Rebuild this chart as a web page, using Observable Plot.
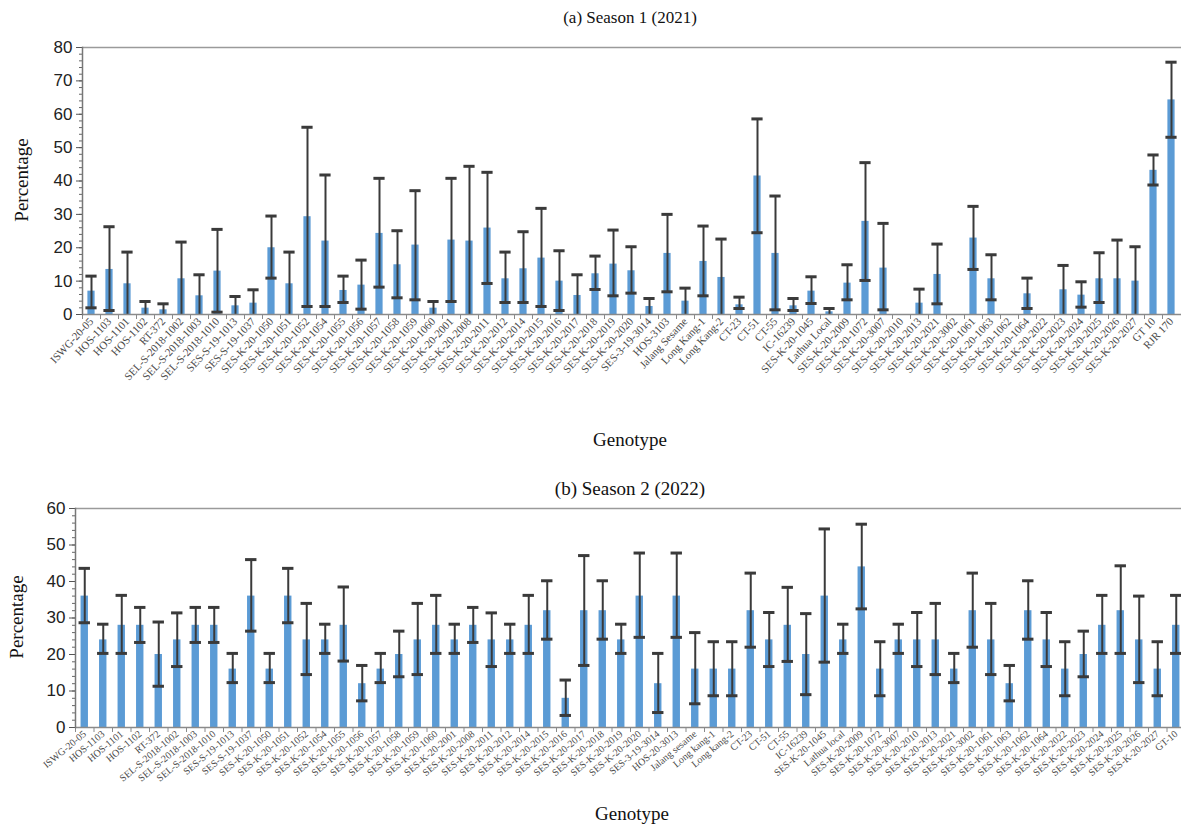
<!DOCTYPE html>
<html>
<head>
<meta charset="utf-8">
<script src="https://cdn.jsdelivr.net/npm/d3@7"></script>
<script src="https://cdn.jsdelivr.net/npm/@observablehq/plot@0.6"></script>
<style>
  html, body { margin: 0; padding: 0; background: #fff; }
  #wrap { position: relative; width: 1181px; height: 828px; overflow: hidden; font-family: "Liberation Serif", "DejaVu Serif", serif; color: #111; }
  .lbl { position: absolute; transform: translate(-50%, -50%); white-space: nowrap; }
  .rot { transform: translate(-50%, -50%) rotate(-90deg); }
  .panel { position: absolute; left: 0; line-height: 0; }
  .panel svg { display: block; }
</style>
</head>
<body>
<div id="wrap">
  <div class="lbl" style="left:630px; top:18px; font-size:17px;">(a) Season 1 (2021)</div>
  <div class="lbl rot" style="left:22px; top:180px; font-size:19px;">Percentage</div>
  <div class="lbl" style="left:630px; top:440px; font-size:19px;">Genotype</div>
  <div class="lbl" style="left:630px; top:489px; font-size:19px;">(b) Season 2 (2022)</div>
  <div class="lbl rot" style="left:17px; top:617px; font-size:19px;">Percentage</div>
  <div class="lbl" style="left:632px; top:814px; font-size:19px; z-index:2;">Genotype</div>
  <div id="pa" class="panel" style="top:30px;"></div>
  <div id="pb" class="panel" style="top:495px;"></div>
</div>
<script>
// ---------- Season 1 (2021) ----------
const genotypesA = ["ISWG-20-05","HOS-1103","HOS-1101","HOS-1102","RT-372","SEL-S-2018-1002","SEL-S-2018-1003","SEL-S-2018-1010","SES-S-19-1013","SES-S-19-1037","SES-K-20-1050","SES-K-20-1051","SES-K-20-1052","SES-K-20-1054","SES-K-20-1055","SES-K-20-1056","SES-K-20-1057","SES-K-20-1058","SES-K-20-1059","SES-K-20-1060","SES-K-20-2001","SES-K-20-2008","SES-K-20-2011","SES-K-20-2012","SES-K-20-2014","SES-K-20-2015","SES-K-20-2016","SES-K-20-2017","SES-K-20-2018","SES-K-20-2019","SES-K-20-2020","SES-3-19-3014","HOS-3103","Jalang Sesame","Long Kang-1","Long Kang-2","CT-23","CT-51","CT-55","IC-16239","SES-K-20-1045","Lathua Local","SES-K-20-2009","SES-K-20-1072","SES-K-20-3007","SES-K-20-2010","SES-K-20-2013","SES-K-20-2021","SES-K-20-3002","SES-K-20-1061","SES-K-20-1063","SES-K-20-1062","SES-K-20-1064","SES-K-20-2022","SES-K-20-2023","SES-K-20-2024","SES-K-20-2025","SES-K-20-2026","SES-K-20-2027","GT 10","RJR 170"];
const meanA  = [7.0,13.5,9.2,1.9,1.4,10.7,5.6,13.0,2.6,3.4, 20.0,9.2,29.3,22.0,7.2,8.8,24.3,14.9,20.8,1.9, 22.3,22.0,25.9,10.7,13.7,16.9,10.0,5.7,12.2,15.1, 13.1,2.4,18.3,4.0,15.9,11.1,2.9,41.5,18.3,2.6, 7.0,0.8,9.4,27.9,13.9,0,3.4,12.0,0,22.9, 10.7,0,6.2,0,7.4,5.8,10.7,10.7,10.0,43.2,64.3];
const upperA = [11.5,26.3,18.7,3.9,3.2,21.7,11.9,25.5,5.4,7.4, 29.5,18.7,56.1,41.8,11.5,16.3,40.8,25.1,37.1,3.9, 40.8,44.4,42.6,18.7,24.8,31.8,19.1,11.9,17.5,25.3, 20.3,4.8,30.0,7.9,26.5,22.6,5.2,58.6,35.5,4.8, 11.3,1.8,14.9,45.5,27.3,0,7.6,21.1,0,32.4, 17.9,0,10.9,0,14.7,9.8,18.5,22.3,20.3,47.8,75.6];
const lowerA = [2.0,1.2,0,0,0,0,0,0.7,0,0, 10.9,0,2.4,2.4,3.6,1.6,8.2,5.0,4.4,0, 3.9,0,9.3,3.6,3.6,2.4,1.2,0,7.5,5.6, 6.4,0,6.8,0,5.6,0,1.8,24.5,1.4,1.2, 3.3,0,4.4,10.2,1.4,0,0,3.2,0,13.5, 4.4,0,1.8,0,0,2.2,3.6,0,0,38.8,53.1];
const yTicksA = [0,10,20,30,40,50,60,70,80];

// ---------- Season 2 (2022) ----------
const genotypesB = ["ISWG-20-05","HOS-1103","HOS-1101","HOS-1102","RT-372","SEL-S-2018-1002","SEL-S-2018-1003","SEL-S-2018-1010","SES-S-19-1013","SES-S-19-1037","SES-K-20-1050","SES-K-20-1051","SES-K-20-1052","SES-K-20-1054","SES-K-20-1055","SES-K-20-1056","SES-K-20-1057","SES-K-20-1058","SES-K-20-1059","SES-K-20-1060","SES-K-20-2001","SES-K-20-2008","SES-K-20-2011","SES-K-20-2012","SES-K-20-2014","SES-K-20-2015","SES-K-20-2016","SES-K-20-2017","SES-K-20-2018","SES-K-20-2019","SES-K-20-2020","SES-3-19-3014","HOS-20-3013","Jalang sesame","Long kang-1","Long kang-2","CT-23","CT-51","CT-55","IC-16239","SES-K-20-1045","Lathua local","SES-K-20-2009","SES-K-20-1072","SES-K-20-3007","SES-K-20-2010","SES-K-20-2013","SES-K-20-2021","SES-K-20-3002","SES-K-20-1061","SES-K-20-1063","SES-K-20-1062","SES-K-20-1064","SES-K-20-2022","SES-K-20-2023","SES-K-20-2024","SES-K-20-2025","SES-K-20-2026","SES-K-20-2027","GT-10"];
const meanB  = [36,24,28,28,20,24,28,28,16,36, 16,36,24,24,28,12,16,20,24,28, 24,28,24,24,28,32,8,32,32,24, 36,12,36,16,16,16,32,24,28,20, 36,24,44,16,24,24,24,16,32,24, 12,32,24,16,20,28,32,24,16,28];
const upperB = [43.6,28.3,36.2,32.9,28.9,31.4,32.9,32.9,20.3,46.0, 20.3,43.6,34.0,28.3,38.5,17.0,20.3,26.4,34.0,36.2, 28.3,32.9,31.4,28.3,36.2,40.2,13.0,47.1,40.2,28.3, 47.8,20.3,47.8,26.0,23.5,23.5,42.3,31.5,38.4,31.2, 54.4,28.3,55.7,23.5,28.3,31.5,34.0,20.3,42.3,34.0, 17.0,40.2,31.5,23.5,26.4,36.2,44.3,36.0,23.5,36.2];
const lowerB = [28.7,20.3,20.3,23.3,11.3,16.7,23.3,23.3,12.3,26.4, 12.3,28.7,14.5,20.3,18.2,7.3,12.3,13.9,14.5,20.3, 20.3,23.3,16.7,20.3,20.3,24.2,3.3,17.0,24.2,20.3, 24.7,4.1,24.7,6.5,8.7,8.7,22.0,16.7,18.1,9.0, 17.9,20.3,32.5,8.7,20.3,16.7,14.5,12.3,22.0,14.5, 7.3,24.2,16.7,8.7,13.9,20.3,20.3,12.3,8.7,20.3];
const yTicksB = [0,10,20,30,40,50,60];

function panel({genotypes, mean, upper, lower, yTicks, width, height, marginLeft, xEnd, marginTop, marginBottom, labelSize, labelRotate}) {
  const data = genotypes.map((g, i) => ({g, v: mean[i], hi: upper[i], lo: lower[i]}));
  const yMax = yTicks[yTicks.length - 1];
  const minor = d3.range(0, yMax + 0.001, 2);
  const step = (xEnd - marginLeft) / genotypes.length;
  const errs = data.filter(d => d.hi > 0);
  const ink = "#3a3a3a";
  return Plot.plot({
    width, height, marginLeft, marginRight: 0, marginTop, marginBottom,
    style: {fontFamily: "'Liberation Serif', serif", background: "transparent", overflow: "visible"},
    x: {domain: genotypes, range: [marginLeft, xEnd], round: false, paddingInner: 0.6, paddingOuter: 0.3, align: 0.5, label: null},
    y: {domain: [0, yMax], label: null},
    marks: [
      Plot.ruleY([yMax], {stroke: "#9a9a9a", strokeWidth: 1.5}),
      Plot.barY(data, {x: "g", y: "v", fill: "#5B9BD5"}),
      Plot.ruleX(errs, {x: "g", y1: "lo", y2: "hi", stroke: ink, strokeWidth: 2}),
      Plot.tickY(errs, {x: "g", y: "hi", stroke: ink, strokeWidth: 3, insetLeft: -2, insetRight: -2}),
      Plot.tickY(errs.filter(d => d.lo > 0), {x: "g", y: "lo", stroke: ink, strokeWidth: 3, insetLeft: -2, insetRight: -2}),
      Plot.ruleY([0], {stroke: "#8a8a8a", strokeWidth: 1.5}),
      Plot.axisX({tickSize: 5, tickFormat: () => "", dx: -step / 2, stroke: "#8a8a8a", label: null}),
      Plot.axisX({tickSize: 0, tickPadding: 5, tickRotate: labelRotate, fontSize: labelSize, fill: "#4a4a4a", fontFamily: "'Liberation Serif', serif", label: null}),
      Plot.axisY({ticks: minor, tickSize: 3, tickFormat: () => "", stroke: "#666", label: null}),
      Plot.axisY({ticks: yTicks, tickSize: 6, tickPadding: 4, fontSize: 17, fill: "#222", stroke: "#555", fontFamily: "'Liberation Sans', 'DejaVu Sans', sans-serif", label: null}),
      Plot.frame({anchor: "left", stroke: "#777", strokeWidth: 1.5})
    ]
  });
}

document.getElementById("pa").append(panel({
  genotypes: genotypesA, mean: meanA, upper: upperA, lower: lowerA, yTicks: yTicksA,
  width: 1181, height: 430, marginLeft: 82, xEnd: 1180, marginTop: 17, marginBottom: 146, labelSize: 11, labelRotate: -47
}));
document.getElementById("pb").append(panel({
  genotypes: genotypesB, mean: meanB, upper: upperB, lower: lowerB, yTicks: yTicksB,
  width: 1181, height: 330, marginLeft: 75, xEnd: 1185, marginTop: 13, marginBottom: 98, labelSize: 10, labelRotate: -40
}));
</script>
</body>
</html>
